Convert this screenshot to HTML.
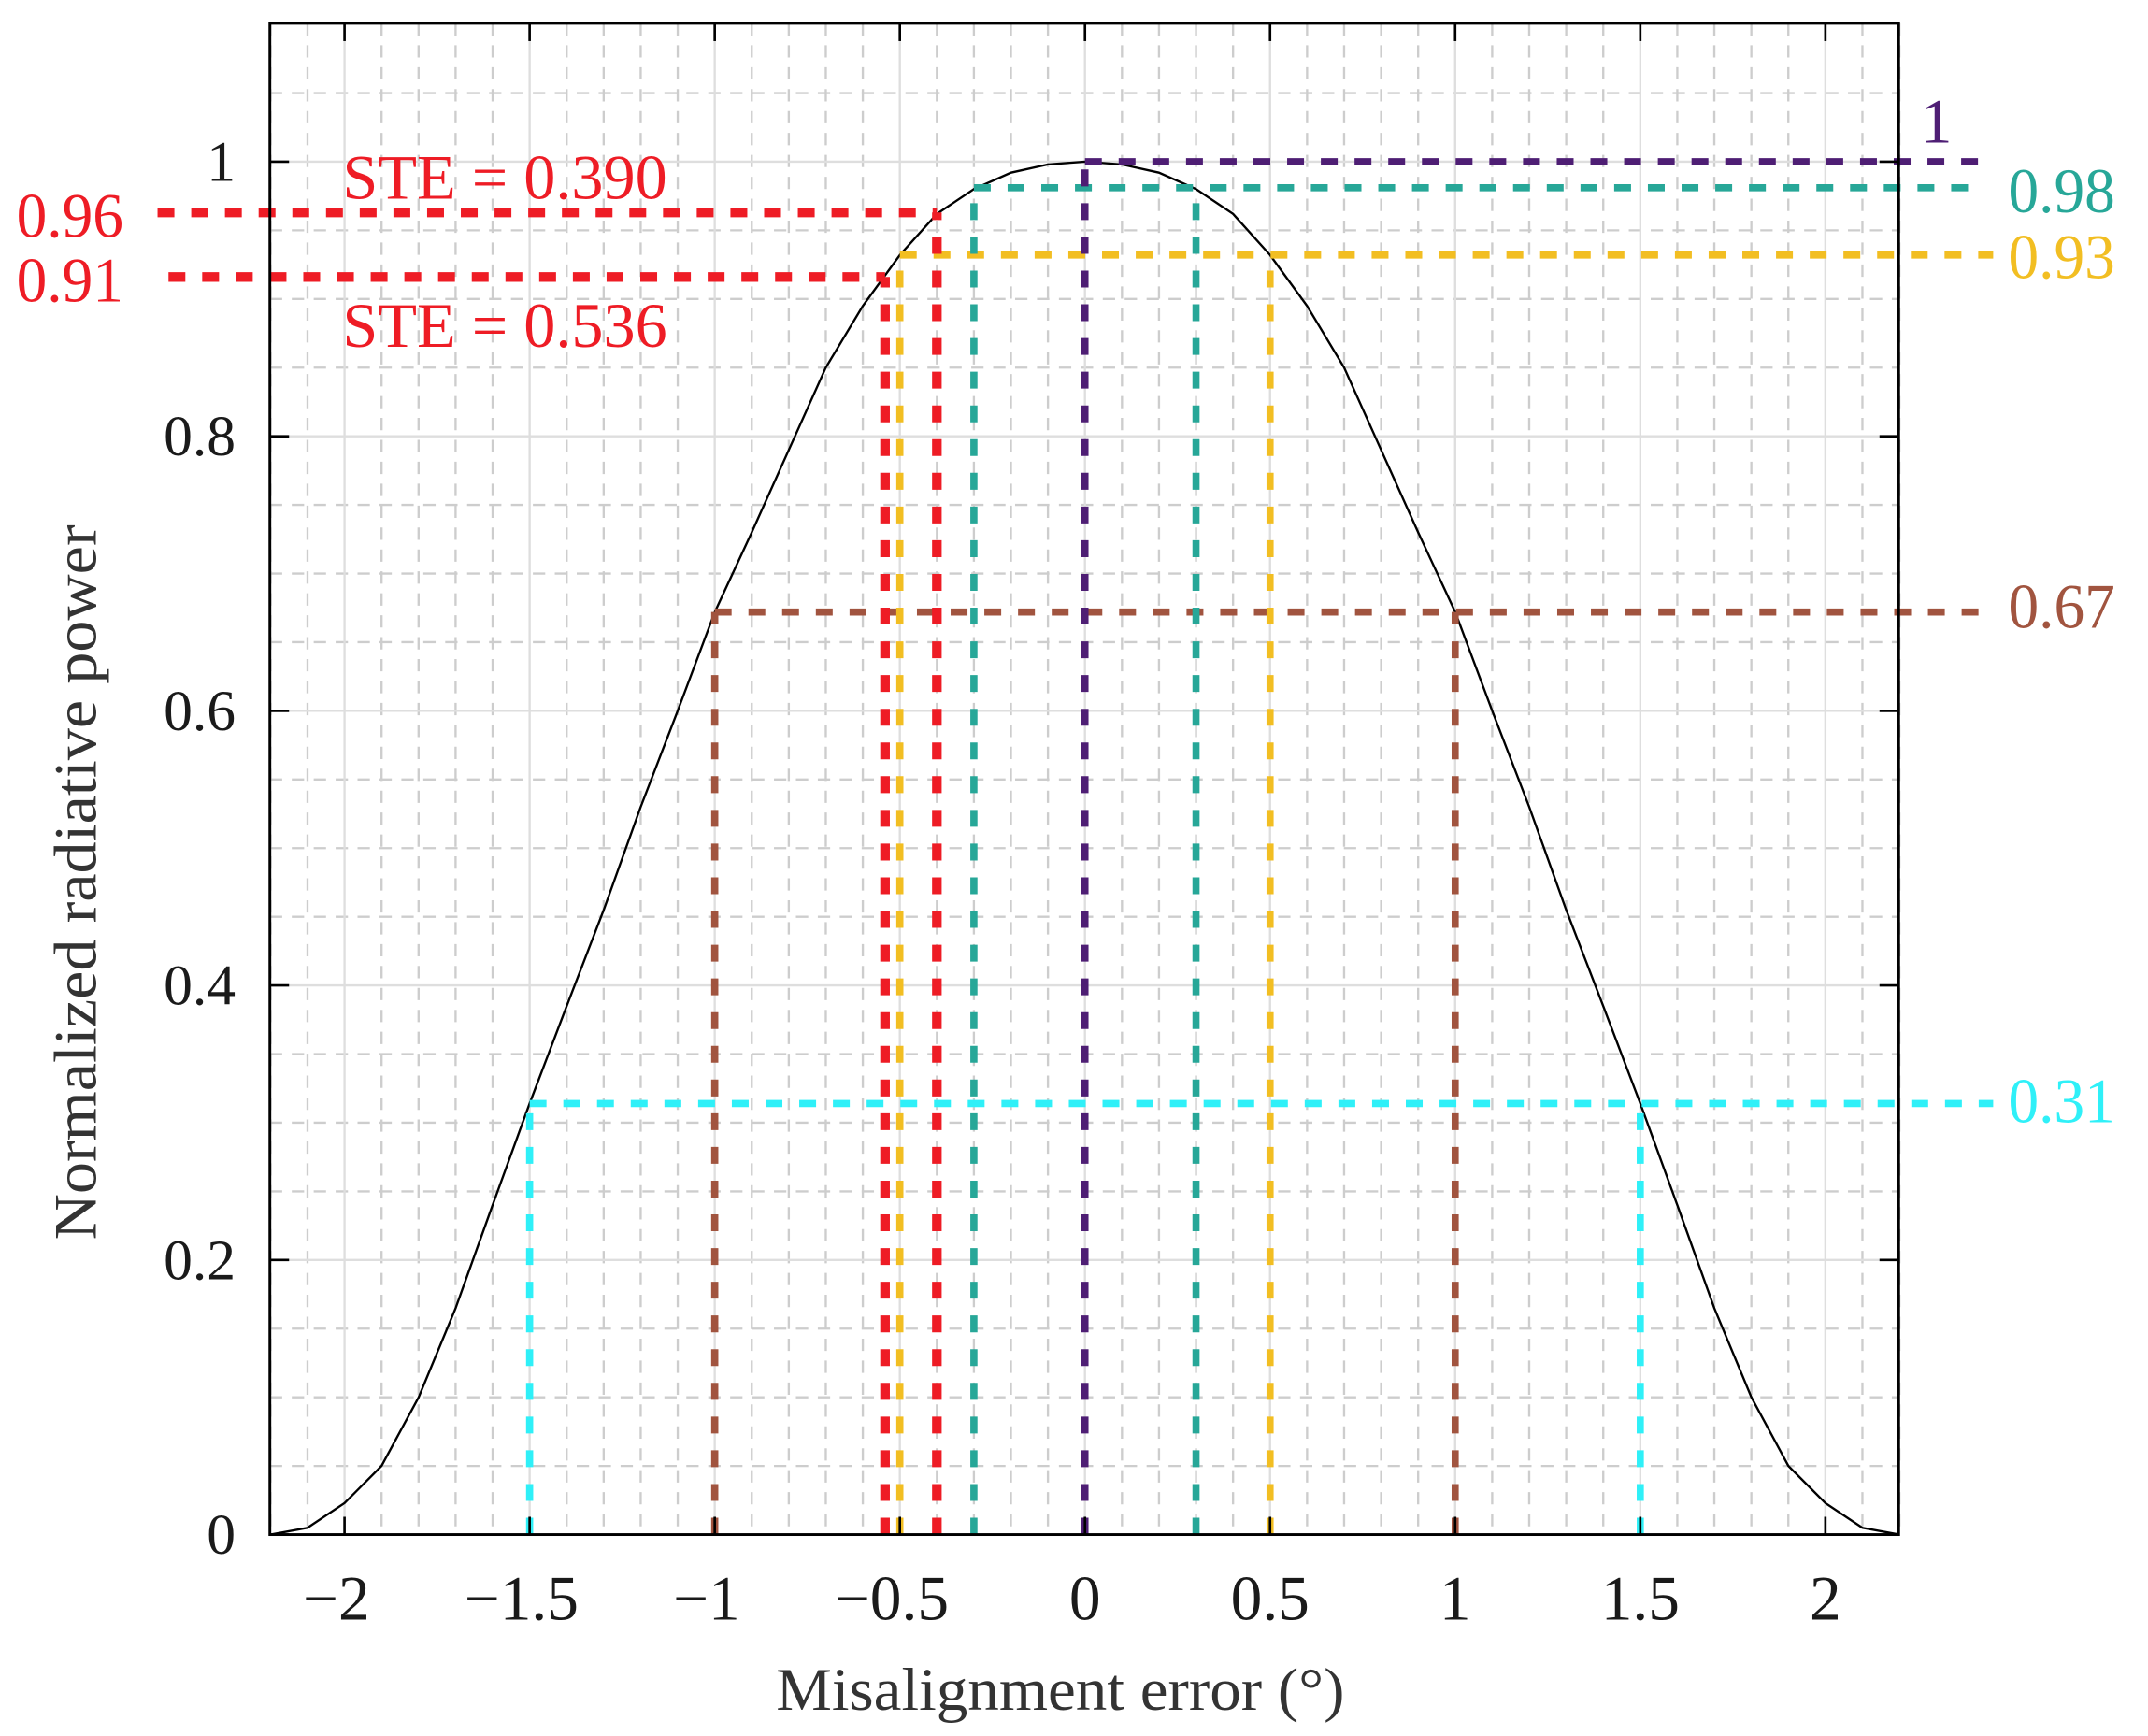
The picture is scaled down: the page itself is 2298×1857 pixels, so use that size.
<!DOCTYPE html>
<html><head><meta charset="utf-8"><style>
html,body{margin:0;padding:0;background:#fff;}
svg{display:block;}
text{font-family:"Liberation Serif","Times New Roman",Times,serif;}
</style></head><body>
<svg id="s" width="2298" height="1857" viewBox="0 0 1568 1267" preserveAspectRatio="none" xmlns="http://www.w3.org/2000/svg">
<g id="grid"></g>
<g id="series"></g>
<g id="axes"></g>
</svg>
<script>
const NS="http://www.w3.org/2000/svg";
const X=v=>792+v*270.25, Y=v=>1120-v*1002;
function el(p,t,a,txt){const e=document.createElementNS(NS,t);for(const k in a)e.setAttribute(k,a[k]);if(txt!==undefined)e.textContent=txt;document.getElementById(p).appendChild(e);return e;}
const L=197,R=1386,T=17,B=1120;
for(let i=-22;i<=22;i++){const x=X(i/10);if(i%5===0)continue;el('grid','line',{x1:x,x2:x,y1:T,y2:B,stroke:'#cdcdcd','stroke-width':1.6,'stroke-dasharray':'9 7'});}
for(let i=1;i<22;i++){if(i%4===0)continue;const y=Y(i*0.05);el('grid','line',{x1:L,x2:R,y1:y,y2:y,stroke:'#cdcdcd','stroke-width':1.6,'stroke-dasharray':'9 7'});}
for(let i=-4;i<=4;i++){const x=X(i/2);el('grid','line',{x1:x,x2:x,y1:T,y2:B,stroke:'#dedede','stroke-width':1.6});}
for(let i=1;i<=5;i++){const y=Y(i*0.2);el('grid','line',{x1:L,x2:R,y1:y,y2:y,stroke:'#dedede','stroke-width':1.6});}
const pts=[[0,1],[.1,.998],[.2,.992],[.3,.98],[.4,.962],[.5,.932],[.6,.895],[.7,.85],[.8,.79],[.9,.73],[1,.672],[1.1,.60],[1.2,.53],[1.3,.455],[1.4,.385],[1.5,.314],[1.6,.24],[1.7,.165],[1.8,.1],[1.9,.05],[2,.023],[2.1,.005],[2.2,0]];
let all=[];for(let i=pts.length-1;i>0;i--)all.push([-pts[i][0],pts[i][1]]);all=all.concat(pts);
el('series','polyline',{points:all.map(p=>X(p[0]).toFixed(1)+','+Y(p[1]).toFixed(1)).join(' '),fill:'none',stroke:'#000','stroke-width':1.6});
function hl(y,x1,x2,c,w){el('series','line',{x1:x1,x2:x2,y1:Y(y),y2:Y(y),stroke:c,'stroke-width':w,'stroke-dasharray':'12.3 12.3'});}
function vl(x,y,c,w){el('series','line',{x1:X(x),x2:X(x),y1:B,y2:Y(y),stroke:c,'stroke-width':w,'stroke-dasharray':'12.3 12.3'});}
const cy='#2FF0F8',br='#A1543F',ye='#F2BE22',te='#27A798',pu='#4E1E74',re='#EE1C25';
const w=5.2;
hl(.314,X(-1.5),1455,cy,w);vl(-1.5,.314,cy,w);vl(1.5,.314,cy,w);
hl(.672,X(-1),1455,br,w);vl(-1,.672,br,w);vl(1,.672,br,w);
hl(.932,X(-.5),1455,ye,w);vl(-.5,.932,ye,w);vl(.5,.932,ye,w);
hl(.981,X(-.3),1445,te,w);vl(-.3,.981,te,w);vl(.3,.981,te,w);
hl(1,X(0),1445,pu,w);vl(0,1,pu,w);
hl(.963,115,X(-.4),re,7);vl(-.4,.963,re,7);
hl(.916,123,X(-.54),re,7);vl(-.54,.916,re,7);
el('axes','rect',{x:L,y:T,width:R-L,height:B-T,fill:'none',stroke:'#000','stroke-width':2});
for(let i=-4;i<=4;i++){const x=X(i/2);el('axes','line',{x1:x,x2:x,y1:B,y2:B-13,stroke:'#000','stroke-width':1.8});el('axes','line',{x1:x,x2:x,y1:T,y2:T+13,stroke:'#000','stroke-width':1.8});
const lab=(i<0?'\u2212':'')+(Math.abs(i/2)).toString();
el('axes','text',{x:x-(i<0?6:0),y:1182,'font-size':46,'text-anchor':'middle',fill:'#1a1a1a'},lab);}
for(let i=0;i<=5;i++){const y=Y(i*0.2);el('axes','line',{x1:L,x2:L+14,y1:y,y2:y,stroke:'#000','stroke-width':1.8});el('axes','line',{x1:R,x2:R-14,y1:y,y2:y,stroke:'#000','stroke-width':1.8});
const lab=i===0?'0':i===5?'1':(i*0.2).toFixed(1);el('axes','text',{x:172,y:y+14,'font-size':42,'text-anchor':'end',fill:'#1a1a1a'},lab);}
el('axes','text',{x:774,y:1248,'font-size':44,'text-anchor':'middle',fill:'#333',textLength:415,lengthAdjust:'spacingAndGlyphs'},'Misalignment error (\u00b0)');
el('axes','text',{x:0,y:0,'font-size':44,'text-anchor':'middle',fill:'#333',transform:'translate(70,644) rotate(-90)',textLength:522,lengthAdjust:'spacingAndGlyphs'},'Normalized radiative power');
function lb(x,y,t,c,tl){const a={x:x,y:y,'font-size':46,fill:c};if(tl){a.textLength=tl;a.lengthAdjust='spacingAndGlyphs';}el('axes','text',a,t);}
lb(1402,104,'1',pu);lb(1466,155,'0.98',te,78);lb(1466,203,'0.93',ye,78);lb(1466,458,'0.67',br,78);lb(1466,819,'0.31',cy,78);
lb(12,173,'0.96',re,78);lb(12,220,'0.91',re,78);
el('axes','text',{x:250,y:145,'font-size':46,fill:re,textLength:237,lengthAdjust:'spacingAndGlyphs'},'STE = 0.390');
el('axes','text',{x:250,y:253,'font-size':46,fill:re,textLength:237,lengthAdjust:'spacingAndGlyphs'},'STE = 0.536');
</script>
</body></html>
